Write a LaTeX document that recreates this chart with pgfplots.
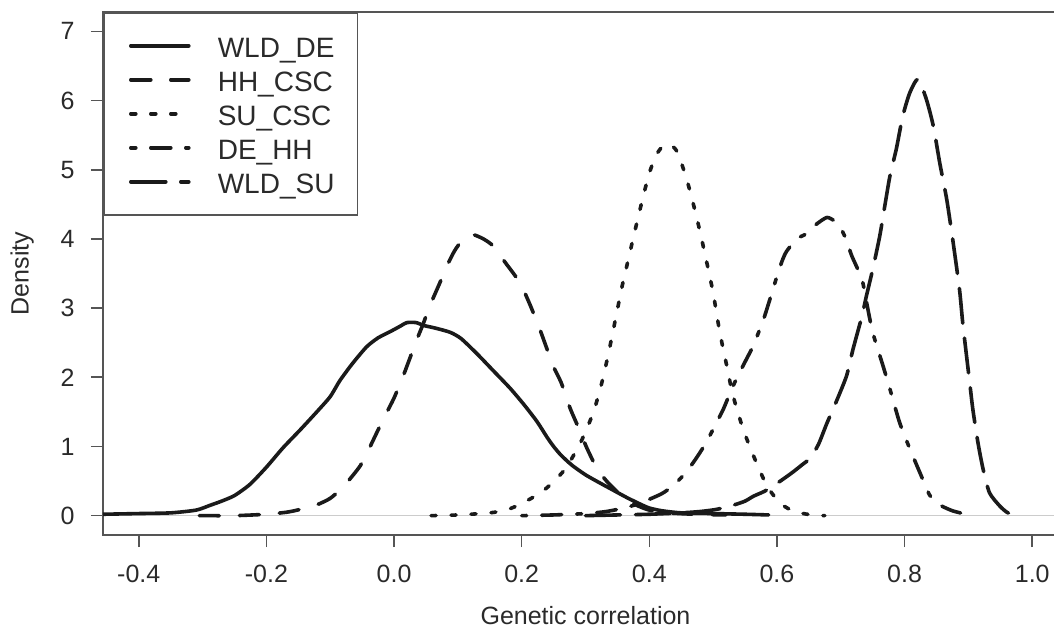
\documentclass[border=0pt]{standalone}
\usepackage{fontspec}
\setmainfont{Liberation Sans}
\usepackage{pgfplots}
\pgfplotsset{compat=1.18}
\definecolor{framecol}{HTML}{555555}
\definecolor{txtcol}{HTML}{2A2A2A}
\definecolor{curvecol}{HTML}{1A1A1A}
\definecolor{zerocol}{HTML}{CCCCCC}

\begin{document}
\begin{tikzpicture}
\begin{axis}[
  name=ax, at={(0,0)}, anchor=south west,
  scale only axis, width=482.5pt, height=261.5pt,
  xmin=-0.456, xmax=1.056, ymin=-0.28, ymax=7.28,
  xtick={-0.4,-0.2,0,0.2,0.4,0.6,0.8,1.0},
  xticklabels={-0.4,-0.2,0.0,0.2,0.4,0.6,0.8,1.0},
  ytick={0,1,2,3,4,5,6,7},
  yticklabels={0,1,2,3,4,5,6,7},
  xtick pos=bottom, ytick pos=left,
  tick align=outside, major tick length=6pt,
  tick style={framecol, line width=0.8pt},
  axis line style={framecol, line width=0.8pt},
  ticklabel style={font=\fontsize{12.5}{14}\selectfont, text=txtcol},
  xticklabel style={anchor=base, inner sep=0pt, yshift=-17.5pt},
  yticklabel style={anchor=east, inner sep=0pt, xshift=-8pt},
  xlabel={Genetic correlation}, ylabel={Density},
  xlabel style={at={(axis description cs:0.5,-0.1702)}, anchor=base, font=\fontsize{12.5}{14}\selectfont, text=txtcol},
  ylabel style={at={(axis description cs:-0.0839,0.5)}, anchor=center, font=\fontsize{12.5}{14}\selectfont, text=txtcol},
  legend style={at={(axis description cs:0,1)}, anchor=north west, draw=framecol, line width=0.8pt,
    fill=white, inner xsep=11.5pt, inner ysep=10pt, row sep=4pt,
    font=\fontsize{14}{16}\selectfont, text=txtcol,
    nodes={inner sep=0pt, text height=12.5pt, text depth=0.5pt}},
  legend cell align=left,
  legend image code/.code={\draw[#1] (2pt,0pt) -- (31pt,0pt); \path[draw=none] (0pt,0pt) -- (45.5pt,0pt);},
  every axis plot/.append style={line width=1.8pt, line cap=round, line join=round, curvecol},
]
\addplot[zerocol, line width=0.8pt, forget plot] coordinates {(-0.456,0) (1.056,0)};

% WLD_DE
\addplot[solid, smooth, tension=0.4] coordinates {
(-0.456,0.02) (-0.40,0.03) (-0.35,0.04) (-0.31,0.08) (-0.288,0.15) (-0.27,0.21) (-0.25,0.29)
(-0.226,0.45) (-0.20,0.70) (-0.174,0.98) (-0.147,1.24) (-0.121,1.50) (-0.10,1.72) (-0.085,1.95)
(-0.065,2.20) (-0.043,2.44) (-0.025,2.57) (-0.006,2.66) (0.01,2.74) (0.02,2.79) (0.035,2.79)
(0.046,2.75) (0.065,2.71) (0.088,2.65) (0.105,2.56) (0.13,2.34) (0.155,2.10) (0.182,1.84)
(0.204,1.60) (0.224,1.36) (0.24,1.13) (0.25,1.00) (0.26,0.89) (0.27,0.80) (0.28,0.72)
(0.30,0.59) (0.323,0.47) (0.345,0.36) (0.365,0.26) (0.385,0.17) (0.40,0.11) (0.42,0.07)
(0.45,0.04) (0.50,0.03) (0.55,0.02) (0.587,0.01)};
\addlegendentry{WLD\_DE}

% HH_CSC
\addplot[dash pattern=on 10pt off 10pt, smooth, tension=0.4] coordinates {
(-0.305,0.0) (-0.25,0.0) (-0.20,0.02) (-0.168,0.05) (-0.147,0.09) (-0.12,0.16) (-0.10,0.25)
(-0.085,0.37) (-0.07,0.52) (-0.053,0.72) (-0.04,0.95) (-0.027,1.20) (-0.012,1.48) (0.0,1.70)
(0.014,2.01) (0.025,2.28) (0.036,2.55) (0.046,2.78) (0.056,3.03) (0.072,3.37) (0.085,3.65)
(0.095,3.83) (0.105,3.96) (0.116,4.05) (0.125,4.06) (0.14,4.0) (0.155,3.9) (0.175,3.65)
(0.197,3.37) (0.213,3.05) (0.229,2.68) (0.24,2.4) (0.25,2.15) (0.262,1.92) (0.276,1.55)
(0.29,1.25) (0.302,0.98) (0.318,0.68) (0.333,0.50) (0.35,0.34) (0.365,0.23) (0.38,0.15)
(0.40,0.08) (0.43,0.04) (0.47,0.02) (0.52,0.01)};
\addlegendentry{HH\_CSC}

% SU_CSC
\addplot[dash pattern=on 2.5pt off 7.5pt, smooth, tension=0.4] coordinates {
(0.058,0.0) (0.10,0.01) (0.15,0.04) (0.175,0.08) (0.192,0.14) (0.215,0.25) (0.235,0.37)
(0.25,0.49) (0.267,0.66) (0.28,0.85) (0.293,1.07) (0.305,1.32) (0.315,1.57) (0.325,1.9)
(0.335,2.3) (0.345,2.75) (0.357,3.3) (0.367,3.7) (0.377,4.1) (0.39,4.6) (0.40,4.95)
(0.41,5.2) (0.42,5.33) (0.43,5.37) (0.443,5.27) (0.458,4.88) (0.471,4.43) (0.48,4.08)
(0.49,3.66) (0.50,3.22) (0.51,2.67) (0.521,2.18) (0.531,1.74) (0.547,1.25) (0.563,0.87)
(0.579,0.53) (0.59,0.35) (0.605,0.18) (0.62,0.09) (0.636,0.04) (0.655,0.01) (0.675,0.0)};
\addlegendentry{SU\_CSC}

% DE_HH
\addplot[dash pattern=on 2.5pt off 7.5pt on 10pt off 7.5pt, smooth, tension=0.4] coordinates {
(0.20,0.0) (0.25,0.01) (0.30,0.03) (0.333,0.06) (0.365,0.12) (0.385,0.18) (0.401,0.24)
(0.42,0.32) (0.437,0.43) (0.455,0.6) (0.469,0.77) (0.482,0.95) (0.495,1.16) (0.505,1.34)
(0.516,1.54) (0.531,1.87) (0.547,2.17) (0.563,2.46) (0.579,2.84) (0.589,3.13) (0.60,3.46)
(0.608,3.68) (0.615,3.82) (0.631,4.0) (0.645,4.07) (0.66,4.2) (0.678,4.31) (0.69,4.26)
(0.698,4.19) (0.708,4.0) (0.717,3.76) (0.733,3.42) (0.74,3.1) (0.75,2.65) (0.766,2.17)
(0.777,1.83) (0.792,1.35) (0.808,0.97) (0.824,0.62) (0.839,0.30) (0.85,0.19) (0.86,0.13)
(0.875,0.07) (0.891,0.03) (0.90,0.0)};
\addlegendentry{DE\_HH}

% WLD_SU
\addplot[dash pattern=on 17.5pt off 7.5pt, smooth, tension=0.4] coordinates {
(0.30,0.0) (0.35,0.01) (0.40,0.02) (0.45,0.04) (0.48,0.06) (0.505,0.09) (0.531,0.15)
(0.55,0.21) (0.563,0.28) (0.58,0.35) (0.594,0.43) (0.61,0.53) (0.625,0.63) (0.64,0.74)
(0.652,0.83) (0.665,1.03) (0.678,1.33) (0.693,1.65) (0.709,2.02) (0.719,2.4) (0.733,2.88)
(0.74,3.17) (0.75,3.56) (0.761,4.04) (0.769,4.48) (0.777,4.91) (0.787,5.3) (0.797,5.77)
(0.808,6.11) (0.821,6.31) (0.834,6.02) (0.845,5.63) (0.855,5.1) (0.866,4.57) (0.876,3.95)
(0.886,3.27) (0.891,2.79) (0.897,2.31) (0.902,1.92) (0.907,1.53) (0.915,1.05) (0.923,0.67)
(0.933,0.33) (0.949,0.14) (0.96,0.05) (0.97,0.01)};
\addlegendentry{WLD\_SU}
\end{axis}
\pgfresetboundingbox
\path (-51.5pt,-46.5pt) rectangle (475.5pt,267.5pt);
\end{tikzpicture}
\end{document}
